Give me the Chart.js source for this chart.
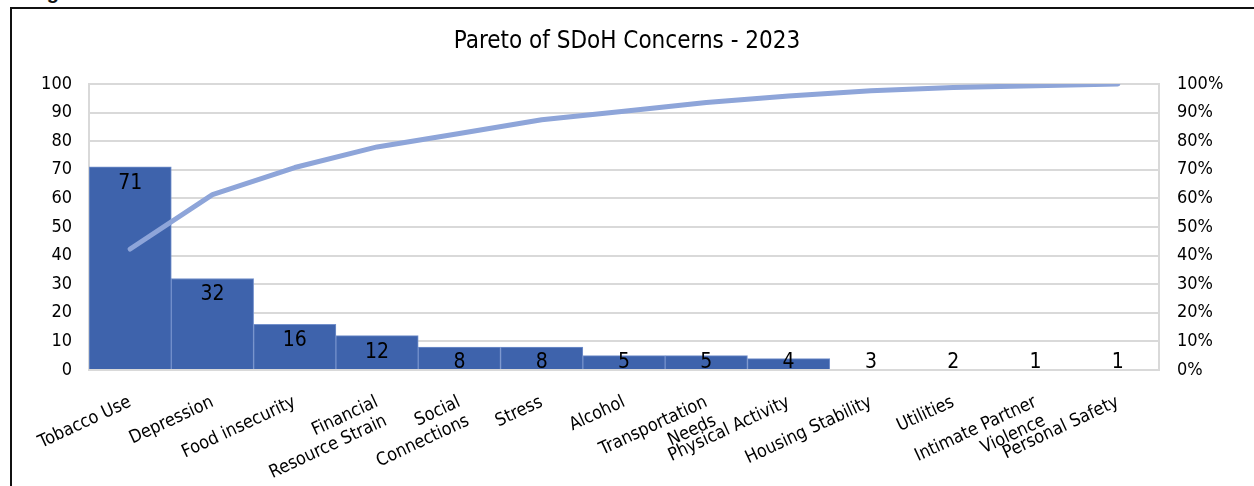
<!DOCTYPE html>
<html>
<head>
<meta charset="utf-8">
<script src="https://cdn.jsdelivr.net/npm/chart.js@4/dist/chart.umd.min.js"></script>
<style>
  html, body { margin: 0; padding: 0; background: #fff; overflow: hidden; }
  #wrap { position: relative; width: 1254px; height: 486px; }
  #frame { position: absolute; left: 10px; top: 7px; width: 1300px; height: 600px; border: 2px solid #111; box-sizing: border-box; pointer-events: none; }
  #fig { position: absolute; left: 29px; top: -18px; font: bold 20px 'Liberation Sans', Arial, sans-serif; line-height: 20px; color: #111; }
  canvas { position: absolute; left: 0; top: 0; }
</style>
</head>
<body>
<div id="wrap">
  <div id="fig">Figure</div>
  <canvas id="c" width="1254" height="486"></canvas>
  <div id="frame"></div>
</div>
<script>
const categories = [
  'Tobacco Use', 'Depression', 'Food insecurity', ['Financial', 'Resource Strain'],
  ['Social', 'Connections'], 'Stress', 'Alcohol', ['Transportation', 'Needs'],
  'Physical Activity', 'Housing Stability', 'Utilities', ['Intimate Partner', 'Violence'],
  'Personal Safety'
];
const counts = [71, 32, 16, 12, 8, 8, 5, 5, 4, 3, 2, 1, 1];
const cumulativePct = [42.3, 61.3, 70.8, 78.0, 82.7, 87.5, 90.5, 93.5, 95.8, 97.6, 98.8, 99.4, 100];
const leftTicks = [0, 10, 20, 30, 40, 50, 60, 70, 80, 90, 100];
const rightTicks = ['0%', '10%', '20%', '30%', '40%', '50%', '60%', '70%', '80%', '90%', '100%'];
const visibleBars = 9;

const FONT = "'Liberation Sans Narrow', 'Arial Narrow', 'DejaVu Sans Condensed', Arial, sans-serif";

const barLabels = {
  id: 'barLabels',
  afterDatasetsDraw(chart) {
    const meta = chart.getDatasetMeta(1);
    const ctx = chart.ctx;
    const base = chart.scales.y.getPixelForValue(0);
    ctx.save();
    ctx.font = '21px ' + FONT;
    ctx.fillStyle = '#000';
    ctx.textAlign = 'center';
    ctx.textBaseline = 'alphabetic';
    meta.data.forEach((bar, i) => {
      const y = Math.min(bar.y + 22, base - 2);
      ctx.fillText(String(counts[i]), bar.x, y);
    });
    ctx.restore();
  }
};

new Chart(document.getElementById('c'), {
  data: {
    labels: categories,
    datasets: [
      {
        type: 'line',
        data: cumulativePct,
        yAxisID: 'y1',
        borderColor: '#8EA5D9',
        borderWidth: 5,
        borderCapStyle: 'round',
        borderJoinStyle: 'round',
        pointRadius: 0,
        tension: 0,
        order: 1
      },
      {
        type: 'bar',
        data: counts,
        yAxisID: 'y',
        backgroundColor: counts.map((v, i) => i < visibleBars ? '#3E63AC' : 'rgba(0,0,0,0)'),
        borderColor: counts.map((v, i) => i < visibleBars ? '#7390CB' : 'rgba(0,0,0,0)'),
        borderWidth: 1,
        barPercentage: 1,
        categoryPercentage: 1,
        order: 2
      }
    ]
  },
  options: {
    responsive: false,
    animation: false,
    layout: { padding: { left: 0, right: 0, top: 0, bottom: 0 } },
    plugins: {
      legend: { display: false },
      tooltip: { enabled: false },
      title: {
        display: true,
        text: 'Pareto of SDoH Concerns - 2023',
        color: '#000',
        font: { family: FONT, size: 24, weight: 'normal', lineHeight: 1.2 },
        padding: { top: 27.6, bottom: 27.6 }
      }
    },
    scales: {
      x: {
        grid: { display: false, drawTicks: false },
        border: { display: false },
        ticks: {
          color: '#000',
          font: { family: FONT, size: 18, lineHeight: 1.15 },
          minRotation: 25,
          maxRotation: 25,
          autoSkip: false,
          padding: 22
        },
        afterFit(scale) { scale.height = 116; }
      },
      y: {
        position: 'left',
        min: 0,
        max: 100,
        afterBuildTicks(scale) { scale.ticks = leftTicks.map(v => ({ value: v })); },
        grid: { color: '#D9D9D9', lineWidth: 2, drawTicks: false },
        border: { display: true, color: '#D9D9D9', width: 2 },
        ticks: { color: '#000', font: { family: FONT, size: 18 }, padding: 17 },
        afterFit(scale) { scale.width = 89; }
      },
      y1: {
        position: 'right',
        min: 0,
        max: 100,
        afterBuildTicks(scale) { scale.ticks = leftTicks.map(v => ({ value: v })); },
        grid: { display: false, drawTicks: false },
        border: { display: true, color: '#D9D9D9', width: 2 },
        ticks: {
          color: '#000',
          font: { family: FONT, size: 18 },
          padding: 18,
          callback: (v, i) => rightTicks[i]
        },
        afterFit(scale) { scale.width = 95; }
      }
    }
  },
  plugins: [barLabels]
});
</script>
</body>
</html>
